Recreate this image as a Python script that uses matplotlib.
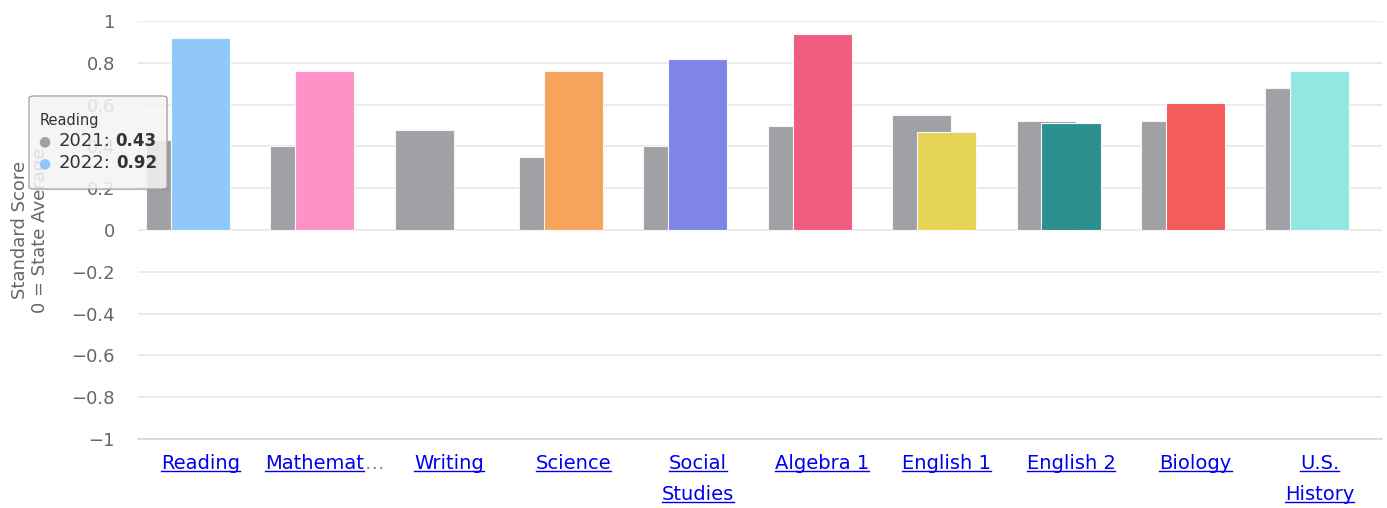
import numpy as np
import matplotlib
matplotlib.use("Agg")
import matplotlib.pyplot as plt
from matplotlib.patches import FancyBboxPatch
from matplotlib.lines import Line2D
from matplotlib.ticker import FuncFormatter
import matplotlib.transforms as mtransforms

# data
subjects = ['Reading', 'Mathematics', 'Writing', 'Science', 'Social Studies',
            'Algebra 1', 'English 1', 'English 2', 'Biology', 'U.S. History']
tick_labels = ['Reading', 'Mathemat…', 'Writing', 'Science', 'Social\nStudies',
               'Algebra 1', 'English 1', 'English 2', 'Biology', 'U.S.\nHistory']
scores_2021 = [0.43, 0.40, 0.48, 0.35, 0.40, 0.50, 0.55, 0.52, 0.52, 0.68]
scores_2022 = [0.92, 0.76, np.nan, 0.76, 0.82, 0.94, 0.47, 0.51, 0.61, 0.76]
years = ['2021', '2022']
y_ticks = [-1, -0.8, -0.6, -0.4, -0.2, 0, 0.2, 0.4, 0.6, 0.8, 1]

# styles
gray = '#a0a1a5'
colors_2022 = ['#90c8fb', '#ff91c8', gray, '#f6a45c', '#7f85e8',
               '#f15c80', '#e4d354', '#2b908f', '#f45b5b', '#91e8e1']
link_blue = '#0000ee'
label_gray = '#666666'

W, H = 1387, 508
fig = plt.figure(figsize=(W / 100, H / 100), dpi=100)
fig.patch.set_facecolor('white')
ax = fig.add_axes([138 / W, 1 - 439 / H, 1244 / W, 418 / H])

x = np.arange(len(subjects))
bw = 0.475
ax.bar(x - 0.2, scores_2021, width=bw, color=gray, edgecolor='#f4f4f4',
       linewidth=0.8, zorder=2)
ax.bar(x, scores_2022, width=bw, color=colors_2022, edgecolor='#f8f8f8',
       linewidth=0.8, zorder=3)

ax.set_xlim(-0.5, len(subjects) - 0.5)
ax.set_ylim(-1, 1)
ax.set_yticks(y_ticks)


def fmt(v, pos):
    s = f'{v:g}'
    if s in ('-0', '0'):
        return '0'
    return s.replace('-', '\u2212')


ax.yaxis.set_major_formatter(FuncFormatter(fmt))
ax.tick_params(axis='y', length=0, pad=16.5, labelsize=13, labelcolor=label_gray)
ax.set_xticks([])
for sp in ax.spines.values():
    sp.set_visible(False)
ax.yaxis.grid(True, color='#e6e6e6', linewidth=1.1)
ax.set_axisbelow(True)
ax.axhline(-1, color='#ccd6eb', linewidth=1.2, zorder=1.5, clip_on=False)

# y axis title
fig.text(30 / W, 1 - 230 / H, 'Standard Score\n0 = State Average', rotation=90,
         ha='center', va='center', multialignment='center', fontsize=13,
         color=label_gray, linespacing=1.15)

# category labels (links)
trans = mtransforms.blended_transform_factory(ax.transData, ax.transAxes)
link_texts = []
for i, lab in enumerate(tick_labels):
    for j, line in enumerate(lab.split('\n')):
        t = ax.annotate(line, xy=(i, 0), xycoords=trans, xytext=(0, -15 - 31 * j),
                        textcoords='offset pixels', ha='center', va='top',
                        fontsize=14, color=link_blue, annotation_clip=False)
        link_texts.append(t)

fig.canvas.draw()
renderer = fig.canvas.get_renderer()

for t in link_texts:
    txt = t.get_text()
    bb = t.get_window_extent(renderer)
    if txt.endswith('…'):
        # blue link text with a grey ellipsis
        t.set_alpha(0)
        t.set_color('white')
        main = fig.text(bb.x0 / W, bb.y0 / H, txt[:-1], ha='left', va='bottom',
                        fontsize=14, color=link_blue)
        fig.canvas.draw()
        mb = main.get_window_extent(renderer)
        fig.text(mb.x1 / W, bb.y0 / H, '…', ha='left', va='bottom',
                 fontsize=14, color='#888888')
        x0, x1 = mb.x0, mb.x1
    else:
        x0, x1 = bb.x0, bb.x1
    yl = bb.y0 + 2
    fig.add_artist(Line2D([x0 / W, x1 / W], [yl / H, yl / H], color=link_blue,
                          linewidth=1.0, transform=fig.transFigure))

# tooltip for the first category
bx0, by_top, bx1, by_bot = 29, 96, 167, 189
shadow = FancyBboxPatch(((bx0 + 1.5) / W, 1 - (by_bot + 1.5) / H),
                        (bx1 - bx0) / W, (by_bot - by_top) / H,
                        boxstyle='round,pad=0,rounding_size=0.004',
                        transform=fig.transFigure, facecolor=(0, 0, 0, 0.08),
                        edgecolor='none', zorder=20)
fig.add_artist(shadow)
tip = FancyBboxPatch((bx0 / W, 1 - by_bot / H), (bx1 - bx0) / W,
                     (by_bot - by_top) / H,
                     boxstyle='round,pad=0,rounding_size=0.004',
                     transform=fig.transFigure, facecolor=(0.97, 0.97, 0.97, 0.85),
                     edgecolor='#a8a8a8', linewidth=1.0, zorder=21)
fig.add_artist(tip)
fig.text(40 / W, 1 - 120 / H, subjects[0], ha='left', va='center', fontsize=10.5,
         color='#333333', zorder=22)
rows = [(years[0], scores_2021[0], gray, 141), (years[1], scores_2022[0], colors_2022[0], 163)]
for yr, val, col, yy in rows:
    fig.text(44 / W, 1 - yy / H, '\u25cf', ha='center', va='center', fontsize=10,
             color=col, zorder=22)
    t1 = fig.text(59 / W, 1 - yy / H, f'{yr}:', ha='left', va='center',
                  fontsize=13, color='#333333', zorder=22)
    fig.canvas.draw()
    b1 = t1.get_window_extent(renderer)
    fig.text((b1.x1 + 5) / W, 1 - yy / H, f'{val:.2f}', ha='left', va='center',
             fontsize=12, fontweight='bold', color='#333333', zorder=22)

fig.savefig('out.png', dpi=100, facecolor='white')
